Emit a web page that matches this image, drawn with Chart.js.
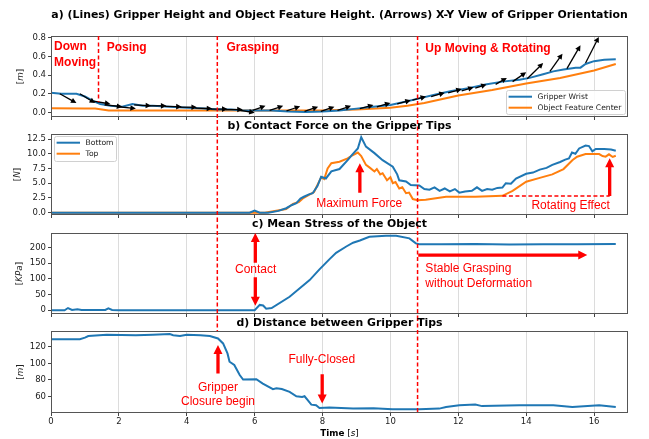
<!DOCTYPE html>
<html lang="en">
<head>
<meta charset="UTF-8">
<title>Gripper Grasping Experiment</title>
<style>
    * { margin: 0; padding: 0; box-sizing: border-box; }
    body { background: #fff; width: 649px; height: 439px; overflow: hidden; position: relative; }
    canvas { position: absolute; left: 0; display: block; }
</style>
<script src="https://cdn.jsdelivr.net/npm/chart.js@4.4.1/dist/chart.umd.min.js"></script>
</head>
<body>
<canvas id="chartA" width="649" height="120" style="top:0px"></canvas>
<canvas id="chartB" width="649" height="98" style="top:120px"></canvas>
<canvas id="chartC" width="649" height="99" style="top:218px"></canvas>
<canvas id="chartD" width="649" height="122" style="top:317px"></canvas>
<script>
    // ---- data ----
    const xTicks = [0, 2, 4, 6, 8, 10, 12, 14, 16];
    const heightTicks = [0, 0.2, 0.4, 0.6, 0.8];
    const forceTicks = [0, 2.5, 5, 7.5, 10, 12.5];
    const stressTicks = [0, 50, 100, 150, 200];
    const distTicks = [60, 80, 100, 120];

    // a) heights [m]
    const wristT = [0, 0.3, 0.75, 1.0, 1.25, 1.45, 1.75, 2.1, 2.4, 2.7, 3.0, 3.5, 4.0, 4.5, 4.9, 5.3, 5.65, 6.0, 6.5, 7.0, 7.5, 8.0, 8.5, 9.0, 9.5, 10.0, 10.5, 10.85, 11.3, 11.8, 12.3, 12.8, 13.3, 13.8, 14.1, 14.5, 14.8, 15.1, 15.46, 15.6, 15.75, 16.0, 16.3, 16.64];
    const wristH = [0.21, 0.20, 0.20, 0.17, 0.12, 0.09, 0.07, 0.06, 0.09, 0.07, 0.07, 0.06, 0.05, 0.04, 0.03, 0.03, 0.02, 0.02, 0.02, 0.01, 0.005, 0.01, 0.02, 0.04, 0.06, 0.08, 0.12, 0.15, 0.19, 0.23, 0.26, 0.30, 0.33, 0.35, 0.37, 0.41, 0.44, 0.46, 0.48, 0.48, 0.52, 0.55, 0.565, 0.57];
    const objT = [0, 1.0, 1.3, 1.7, 2.0, 4.0, 6.0, 8.0, 9.0, 10.0, 10.5, 11.0, 11.5, 12.0, 13.0, 14.0, 15.0, 16.0, 16.64];
    const objH = [0.045, 0.04, 0.04, 0.02, 0.02, 0.02, 0.02, 0.02, 0.03, 0.05, 0.07, 0.10, 0.14, 0.18, 0.24, 0.31, 0.37, 0.45, 0.52];

    // a) orientation arrows: start time, start height, and components
    const arrowT = [0.26, 0.85, 1.25, 1.6, 2.0, 2.45, 2.9, 3.35, 3.8, 4.25, 4.7, 5.15, 5.55, 5.94, 6.44, 6.94, 7.47, 7.95, 8.44, 9.1, 9.6, 10.2, 10.65, 11.2, 11.7, 12.1, 12.5, 13.1, 13.6, 14.03, 14.7, 15.2, 15.75];
    const arrowH = [0.20, 0.20, 0.12, 0.08, 0.06, 0.08, 0.07, 0.065, 0.055, 0.045, 0.035, 0.03, 0.025, 0.02, 0.02, 0.015, 0.01, 0.01, 0.02, 0.04, 0.06, 0.09, 0.13, 0.17, 0.21, 0.23, 0.26, 0.30, 0.33, 0.36, 0.44, 0.47, 0.53];
    const arrowDT = [0.49, 0.45, 0.5, 0.5, 0.5, 0.5, 0.5, 0.5, 0.5, 0.5, 0.5, 0.5, 0.45, 0.38, 0.4, 0.4, 0.4, 0.4, 0.4, 0.4, 0.4, 0.4, 0.4, 0.4, 0.4, 0.35, 0.33, 0.33, 0.4, 0.47, 0.37, 0.4, 0.39];
    const arrowDH = [-0.10, -0.10, -0.03, -0.02, -0.02, -0.01, 0, -0.005, 0, -0.005, 0, 0, -0.03, 0.05, 0.05, 0.05, 0.05, 0.05, 0.05, 0.04, 0.04, 0.04, 0.04, 0.04, 0.04, 0.04, 0.04, 0.07, 0.10, 0.17, 0.19, 0.25, 0.28];

    // b) contact force [N]
    const bottomT = [0, 5.85, 6.0, 6.15, 6.4, 6.7, 6.93, 7.1, 7.23, 7.35, 7.45, 7.6, 7.71, 7.85, 7.96, 8.1, 8.26, 8.5, 8.74, 8.87, 9.04, 9.14, 9.28, 9.53, 9.77, 10.07, 10.2, 10.26, 10.46, 10.6, 10.85, 11.0, 11.15, 11.3, 11.45, 11.6, 11.75, 11.9, 12.03, 12.2, 12.4, 12.55, 12.7, 12.85, 13.0, 13.15, 13.3, 13.4, 13.55, 13.7, 14.0, 14.2, 14.4, 14.6, 14.77, 15.0, 15.15, 15.26, 15.35, 15.45, 15.56, 15.75, 15.85, 15.95, 16.05, 16.3, 16.5, 16.64];
    const bottomF = [0, 0, 0.35, 0, 0, 0.3, 0.75, 1.3, 1.6, 2.4, 2.7, 3.1, 3.3, 4.5, 6.1, 5.8, 7.0, 7.4, 8.9, 9.8, 10.9, 12.8, 11.2, 10.1, 8.9, 7.8, 6.5, 5.5, 5.3, 4.7, 4.6, 4.0, 3.9, 4.3, 3.7, 4.1, 3.6, 4.0, 3.4, 3.6, 3.7, 4.3, 3.7, 4.0, 3.9, 4.2, 4.25, 5.0, 4.9, 5.8, 6.6, 6.8, 7.3, 7.6, 8.1, 8.6, 9.0, 9.2, 10.2, 10.0, 10.9, 11.4, 11.3, 10.4, 10.8, 10.8, 10.7, 10.5];
    const topT = [0, 6.3, 6.93, 7.13, 7.3, 7.42, 7.6, 7.75, 7.96, 8.05, 8.15, 8.26, 8.5, 8.74, 8.87, 9.04, 9.14, 9.28, 9.4, 9.53, 9.6, 9.7, 9.77, 9.9, 10.0, 10.07, 10.15, 10.26, 10.35, 10.46, 10.55, 10.66, 10.8, 11.04, 11.34, 11.64, 12.5, 13.3, 13.6, 14.0, 14.4, 14.77, 15.1, 15.36, 15.5, 15.75, 16.15, 16.25, 16.34, 16.44, 16.55, 16.64];
    const topF = [0, 0, 0.6, 1.5, 1.8, 2.4, 3.0, 3.5, 6.0, 5.7, 7.5, 8.4, 8.65, 9.2, 9.7, 10.2, 9.6, 8.1, 7.6, 7.0, 7.4, 6.5, 6.7, 5.5, 6.0, 5.0, 5.2, 4.1, 4.3, 3.3, 3.4, 2.3, 2.1, 2.2, 2.45, 2.7, 2.7, 2.85, 3.7, 5.25, 5.9, 6.5, 7.4, 8.9, 9.5, 9.95, 9.95, 9.6, 9.5, 9.9, 9.45, 9.65];

    // c) mean stress [KPa]
    const stressT = [0, 0.4, 0.5, 0.62, 0.78, 0.9, 1.0, 1.6, 1.69, 1.8, 2.0, 6.0, 6.15, 6.25, 6.34, 6.5, 7.03, 7.62, 7.91, 8.2, 8.4, 8.7, 8.9, 9.1, 9.38, 9.87, 10.17, 10.56, 10.75, 10.85, 11.5, 12.5, 13.5, 14.5, 15.5, 16.64];
    const stress = [0, 0, 7, 1, 3, 1, 1, 1, 6, 1, 0, 0, 17, 15, 5, 7, 43, 96, 130, 162, 183, 203, 215, 222, 234, 237, 237, 229, 213, 210, 210, 211, 209, 210, 210, 211];

    // d) distance between tips [m]
    const distT = [0, 0.85, 1.0, 1.1, 1.64, 2.5, 3.0, 3.5, 3.6, 3.8, 4.0, 4.4, 4.68, 4.92, 5.07, 5.2, 5.26, 5.4, 5.56, 5.66, 6.05, 6.24, 6.54, 6.64, 6.8, 7.03, 7.23, 7.4, 7.47, 7.57, 7.67, 7.81, 7.91, 8.2, 8.9, 9.5, 10.06, 10.85, 11.44, 11.64, 12.03, 12.5, 12.7, 13.8, 14.8, 15.36, 16.15, 16.64];
    const dist = [129, 129, 131, 133, 134.5, 134, 134.5, 135.4, 134, 133, 134.5, 134, 133, 130, 124, 112, 102, 98, 86, 80.5, 81, 75.7, 69, 70, 69, 65.6, 60.4, 59.5, 60.4, 55.5, 50.3, 49.5, 46.2, 46.7, 45.5, 46, 44.6, 44.6, 45.5, 47.4, 49.5, 50.3, 48.5, 49.5, 49.5, 47.4, 49.5, 47.4];

    const BLUE = '#1f77b4', ORANGE = '#ff7f0e';
    const FONT = '"DejaVu Sans", sans-serif';
    const RED_FONT = '"Liberation Sans", Arial, sans-serif';

    const pts = (xs, ys) => xs.map((x, i) => ({x: x, y: ys[i]}));

    // ---- drawing helpers ----
    function richText(ctx, parts, x, y, align) {
        let w = 0;
        parts.forEach(p => { ctx.font = p[1]; w += ctx.measureText(p[0]).width; });
        let cx = align === 'center' ? x - w / 2 : x;
        ctx.textAlign = 'left';
        ctx.textBaseline = 'middle';
        parts.forEach(p => {
            ctx.font = p[1];
            ctx.fillText(p[0], cx, y);
            cx += ctx.measureText(p[0]).width;
        });
    }

    function fatArrow(ctx, x1, y1, x2, y2) {
        const sw = 3.3, hw = 9, hl = 9;
        const ang = Math.atan2(y2 - y1, x2 - x1), len = Math.hypot(x2 - x1, y2 - y1);
        ctx.save();
        ctx.translate(x1, y1);
        ctx.rotate(ang);
        ctx.beginPath();
        ctx.moveTo(0, -sw / 2);
        ctx.lineTo(len - hl, -sw / 2);
        ctx.lineTo(len - hl, -hw / 2);
        ctx.lineTo(len, 0);
        ctx.lineTo(len - hl, hw / 2);
        ctx.lineTo(len - hl, sw / 2);
        ctx.lineTo(0, sw / 2);
        ctx.closePath();
        ctx.fill();
        ctx.restore();
    }

    function thinArrow(ctx, x1, y1, x2, y2) {
        const ang = Math.atan2(y2 - y1, x2 - x1), len = Math.hypot(x2 - x1, y2 - y1);
        const hl = Math.min(5.5, len * 0.45), hw = 2.8;
        ctx.save();
        ctx.translate(x1, y1);
        ctx.rotate(ang);
        ctx.lineWidth = 1.3;
        ctx.beginPath();
        ctx.moveTo(0, 0);
        ctx.lineTo(len - hl + 1, 0);
        ctx.stroke();
        ctx.beginPath();
        ctx.moveTo(len, 0);
        ctx.lineTo(len - hl, -hw);
        ctx.lineTo(len - hl, hw);
        ctx.closePath();
        ctx.fill();
        ctx.restore();
    }

    // ---- plugin: frame, titles, phase lines, legend, annotations ----
    const deco = {
        id: 'deco',
        afterDraw(chart, args, o) {
            const ctx = chart.ctx, a = chart.chartArea;
            const xs = chart.scales.x, ys = chart.scales.y;
            const px = v => xs.getPixelForValue(v), py = v => ys.getPixelForValue(v);
            ctx.save();

            // orientation arrows
            if (o.quiver) {
                ctx.fillStyle = '#000';
                ctx.strokeStyle = '#000';
                arrowT.forEach((t, i) => {
                    thinArrow(ctx, px(t), py(arrowH[i]), px(t + arrowDT[i]), py(arrowH[i] + arrowDH[i]));
                });
            }

            // frame
            ctx.strokeStyle = '#555';
            ctx.lineWidth = 1;
            ctx.strokeRect(a.left + 0.5, a.top + 0.5, a.width - 1, a.height - 1);

            // red dashed phase lines
            ctx.strokeStyle = '#ff0000';
            ctx.lineWidth = 1.5;
            ctx.setLineDash([4, 2.5]);
            const yOf = v => v === 'canvas0' ? 0 : v === 'canvasEnd' ? chart.height :
                v === 'top' ? a.top : v === 'bottom' ? a.bottom : py(v);
            (o.phases || []).forEach(p => {
                ctx.beginPath();
                ctx.moveTo(px(p.x), yOf(p.from));
                ctx.lineTo(px(p.x), yOf(p.to));
                ctx.stroke();
            });
            (o.hdashes || []).forEach(h => {
                ctx.beginPath();
                ctx.moveTo(px(h.x0), py(h.y));
                ctx.lineTo(px(h.x1), py(h.y));
                ctx.stroke();
            });
            ctx.setLineDash([]);

            // legend
            if (o.legend) {
                const L = o.legend;
                const bx = L.corner === 'br' ? a.right - L.dx - L.w : a.left + L.dx;
                const by = L.corner === 'br' ? a.bottom - L.dy - L.h : a.top + L.dy;
                ctx.fillStyle = 'rgba(255,255,255,0.85)';
                ctx.strokeStyle = '#d0d0d0';
                ctx.lineWidth = 1;
                ctx.beginPath();
                ctx.roundRect(bx + 0.5, by + 0.5, L.w, L.h, 2);
                ctx.fill();
                ctx.stroke();
                chart.data.datasets.forEach((d, i) => {
                    const yy = by + 6.7 + i * 11;
                    ctx.strokeStyle = d.borderColor;
                    ctx.lineWidth = 2;
                    ctx.beginPath();
                    ctx.moveTo(bx + 2.6, yy);
                    ctx.lineTo(bx + 26, yy);
                    ctx.stroke();
                    ctx.fillStyle = '#222';
                    ctx.font = '7.6px ' + FONT;
                    ctx.textAlign = 'left';
                    ctx.textBaseline = 'middle';
                    ctx.fillText(d.label, bx + 31.6, yy);
                });
            }

            // red annotations
            ctx.fillStyle = '#ff0000';
            (o.texts || []).forEach(t => {
                ctx.font = (t.bold ? 'bold ' : '') + '12px ' + RED_FONT;
                ctx.textAlign = t.align || 'left';
                ctx.textBaseline = 'middle';
                ctx.fillText(t.text, px(t.x), py(t.y));
            });
            (o.arrows || []).forEach(r => fatArrow(ctx, px(r.x1), py(r.y1), px(r.x2), py(r.y2)));

            // title
            ctx.fillStyle = '#000';
            richText(ctx, [[o.title, 'bold 10.9px ' + FONT]], (a.left + a.right) / 2, o.titleY, 'center');

            // y label (rotated)
            ctx.save();
            ctx.translate(o.yLabelX, (a.top + a.bottom) / 2);
            ctx.rotate(-Math.PI / 2);
            ctx.fillStyle = '#222';
            richText(ctx, o.yLabel, 0, 0, 'center');
            ctx.restore();

            // x label
            if (o.xLabelY) {
                ctx.fillStyle = '#000';
                richText(ctx, [['Time', 'bold 8.8px ' + FONT], [' [', '8.8px ' + FONT],
                    ['s', 'italic 8.8px ' + FONT], [']', '8.8px ' + FONT]],
                    (a.left + a.right) / 2, o.xLabelY, 'center');
            }
            ctx.restore();
        }
    };

    function xScale(labels, h) {
        return {
            type: 'linear', min: 0, max: 17,
            afterBuildTicks: ax => { ax.ticks = xTicks.map(v => ({value: v})); },
            afterFit: ax => { ax.height = h; ax.paddingLeft = 0; ax.paddingRight = 0; },
            grid: { color: '#dcdcdc', lineWidth: 1, tickColor: '#444', tickLength: 3 },
            border: { display: false },
            ticks: { display: labels, autoSkip: false, maxRotation: 0, padding: 1, color: '#222',
                font: { family: FONT, size: 8.5 }, callback: v => String(v) }
        };
    }

    function yScale(min, max, ticks, digits) {
        return {
            type: 'linear', min: min, max: max,
            afterBuildTicks: ax => { ax.ticks = ticks.map(v => ({value: v})); },
            afterFit: ax => { ax.width = 51; ax.paddingTop = 0; ax.paddingBottom = 0; },
            grid: { drawOnChartArea: false, tickColor: '#444', tickLength: 3 },
            border: { display: false },
            ticks: { padding: 2, color: '#222', font: { family: FONT, size: 8.5 },
                callback: v => Number(v).toFixed(digits) }
        };
    }

    function baseOptions(top, scales, decoOpts) {
        return {
            responsive: false,
            devicePixelRatio: 1,
            animation: false,
            events: [],
            layout: { padding: { left: 0, right: 21, top: top, bottom: 0 } },
            elements: { point: { radius: 0 }, line: { borderWidth: 2, tension: 0 } },
            scales: scales,
            plugins: { legend: { display: false }, tooltip: { enabled: false }, deco: decoOpts }
        };
    }

    const line = (label, data, color) => ({ label: label, data: data, borderColor: color, backgroundColor: color, fill: false });

    // a) heights + orientation
    new Chart(document.getElementById('chartA'), {
        type: 'line',
        data: { datasets: [
            line('Gripper Wrist', pts(wristT, wristH), BLUE),
            line('Object Feature Center', pts(objT, objH), ORANGE)
        ] },
        options: baseOptions(36, { x: xScale(false, 3), y: yScale(-0.05, 0.82, heightTicks, 1) }, {
            title: 'a) (Lines) Gripper Height and Object Feature Height. (Arrows) X-Y View of Gripper Orientation',
            titleY: 15,
            yLabel: [['[', '8.8px ' + FONT], ['m', 'italic 8.8px ' + FONT], [']', '8.8px ' + FONT]],
            yLabelX: 21,
            quiver: true,
            legend: { corner: 'br', dx: 3, dy: 3, w: 119, h: 24 },
            phases: [
                { x: 1.4, from: 'top', to: 0.11 },
                { x: 4.9, from: 'top', to: 'canvasEnd' },
                { x: 10.8, from: 'top', to: 'canvasEnd' }
            ],
            texts: [
                { text: 'Down', x: 0.09, y: 0.705, bold: true },
                { text: 'Moving', x: 0.09, y: 0.534, bold: true },
                { text: 'Posing', x: 1.64, y: 0.69, bold: true },
                { text: 'Grasping', x: 5.17, y: 0.69, bold: true },
                { text: 'Up Moving & Rotating', x: 11.03, y: 0.685, bold: true }
            ]
        }),
        plugins: [deco]
    });

    // b) contact force
    new Chart(document.getElementById('chartB'), {
        type: 'line',
        data: { datasets: [
            line('Bottom', pts(bottomT, bottomF), BLUE),
            line('Top', pts(topT, topF), ORANGE)
        ] },
        options: baseOptions(14, { x: xScale(false, 3), y: yScale(-0.4, 13.35, forceTicks, 1) }, {
            title: 'b) Contact Force on the Gripper Tips',
            titleY: 6,
            yLabel: [['[', '8.8px ' + FONT], ['N', 'italic 8.8px ' + FONT], [']', '8.8px ' + FONT]],
            yLabelX: 18,
            legend: { corner: 'tl', dx: 3, dy: 2, w: 62, h: 25 },
            phases: [
                { x: 4.9, from: 'canvas0', to: 'canvasEnd' },
                { x: 10.8, from: 'canvas0', to: 'canvasEnd' }
            ],
            hdashes: [ { x0: 13.3, x1: 16.46, y: 2.83 } ],
            texts: [
                { text: 'Maximum Force', x: 9.08, y: 1.48, align: 'center' },
                { text: 'Rotating Effect', x: 15.31, y: 1.19, align: 'center' }
            ],
            arrows: [
                { x1: 9.1, y1: 3.39, x2: 9.1, y2: 8.38 },
                { x1: 16.46, y1: 2.83, x2: 16.46, y2: 9.23 }
            ]
        }),
        plugins: [deco]
    });

    // c) mean stress
    new Chart(document.getElementById('chartC'), {
        type: 'line',
        data: { datasets: [ line('Mean Stress', pts(stressT, stress), BLUE) ] },
        options: baseOptions(15, { x: xScale(false, 3), y: yScale(-12, 246, stressTicks, 0) }, {
            title: 'c) Mean Stress of the Object',
            titleY: 6,
            yLabel: [['[', '8.8px ' + FONT], ['KPa', 'italic 8.8px ' + FONT], [']', '8.8px ' + FONT]],
            yLabelX: 20,
            phases: [
                { x: 4.9, from: 'canvas0', to: 'canvasEnd' },
                { x: 10.8, from: 'canvas0', to: 'canvasEnd' }
            ],
            texts: [
                { text: 'Contact', x: 6.03, y: 130, align: 'center' },
                { text: 'Stable Grasping', x: 11.03, y: 133 },
                { text: 'without Deformation', x: 11.03, y: 86 }
            ],
            arrows: [
                { x1: 6.02, y1: 151, x2: 6.02, y2: 246 },
                { x1: 6.02, y1: 105, x2: 6.02, y2: 14 },
                { x1: 10.82, y1: 175.6, x2: 15.8, y2: 175.6 }
            ]
        }),
        plugins: [deco]
    });

    // d) distance between tips
    new Chart(document.getElementById('chartD'), {
        type: 'line',
        data: { datasets: [ line('Distance', pts(distT, dist), BLUE) ] },
        options: baseOptions(14, { x: xScale(true, 26), y: yScale(40.2, 139, distTicks, 0) }, {
            title: 'd) Distance between Gripper Tips',
            titleY: 6,
            yLabel: [['[', '8.8px ' + FONT], ['m', 'italic 8.8px ' + FONT], [']', '8.8px ' + FONT]],
            yLabelX: 21,
            xLabelY: 117,
            phases: [
                { x: 4.9, from: 'canvas0', to: 'top' },
                { x: 10.8, from: 'canvas0', to: 'bottom' }
            ],
            texts: [
                { text: 'Gripper', x: 4.92, y: 70.9, align: 'center' },
                { text: 'Closure begin', x: 4.92, y: 53.5, align: 'center' },
                { text: 'Fully-Closed', x: 7.98, y: 104.8, align: 'center' }
            ],
            arrows: [
                { x1: 4.92, y1: 87.8, x2: 4.92, y2: 122 },
                { x1: 7.99, y1: 87, x2: 7.99, y2: 51.5 }
            ]
        }),
        plugins: [deco]
    });
</script>
</body>
</html>
